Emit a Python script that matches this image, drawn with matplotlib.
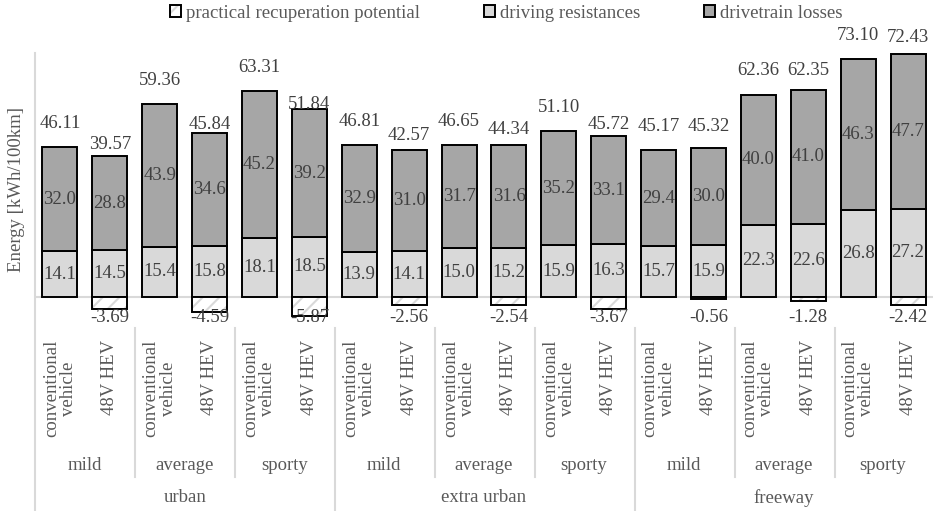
import numpy as np
import matplotlib
matplotlib.use('Agg')
import matplotlib.pyplot as plt
import matplotlib.transforms as mtrans
from matplotlib.patches import Patch
from matplotlib.lines import Line2D
from matplotlib.legend_handler import HandlerTuple

plt.rcParams['font.family'] = 'serif'
plt.rcParams['font.serif'] = ['Liberation Serif', 'DejaVu Serif']
plt.rcParams['hatch.linewidth'] = 1.5

### Data
groups    = ['urban', 'extra urban', 'freeway']
styles    = ['mild', 'average', 'sporty']
vehicles  = ['conventional\nvehicle', '48V HEV']

driving   = [14.1, 14.5, 15.4, 15.8, 18.1, 18.5, 13.9, 14.1, 15.0, 15.2, 15.9, 16.3,
             15.7, 15.9, 22.3, 22.6, 26.8, 27.2]
losses    = [32.0, 28.8, 43.9, 34.6, 45.2, 39.2, 32.9, 31.0, 31.7, 31.6, 35.2, 33.1,
             29.4, 30.0, 40.0, 41.0, 46.3, 47.7]
recup     = [0, -3.69, 0, -4.59, 0, -5.87, 0, -2.56, 0, -2.54, 0, -3.67,
             0, -0.56, 0, -1.28, 0, -2.42]
totals    = [46.11, 39.57, 59.36, 45.84, 63.31, 51.84, 46.81, 42.57, 46.65, 44.34,
             51.10, 45.72, 45.17, 45.32, 62.36, 62.35, 73.10, 72.43]

labels_legend = ['practical recuperation potential', 'driving resistances', 'drivetrain losses']

c_light = '#d9d9d9'
c_dark  = '#a6a6a6'
c_num   = '#404040'
c_txt   = '#595959'
c_grid  = '#d9d9d9'
fs = 13.5

W, H = 933, 511
fig = plt.figure(figsize=(W/100, H/100), dpi=100)

def fx(x): return x / W
def fy(y): return 1 - y / H

# axes: x 35..933 px, y 53..320 px, zero at 297 px
ax = fig.add_axes([fx(35), fy(320), fx(933) - fx(35), fy(53) - fy(320)])
ax.set_xlim(-0.5, 17.5)
ax.set_ylim(-23 / 3.25, 244 / 3.25)
for s in ['top', 'right', 'bottom', 'left']:
    ax.spines[s].set_visible(False)
ax.set_xticks([])
ax.set_yticks([])
ax.patch.set_alpha(0)

x = np.arange(len(driving))
w = 0.7
driving = np.array(driving)
losses = np.array(losses)
recup = np.array(recup)

ax.axhline(0, color=c_grid, lw=1.5, zorder=1)

ax.bar(x, driving, w, color=c_light, edgecolor='black', lw=1.4, zorder=2)
ax.bar(x, losses, w, bottom=driving, color=c_dark, edgecolor='black', lw=1.4, zorder=2)
neg = recup < 0
ax.bar(x[neg], recup[neg], w, color='white', edgecolor=c_light, hatch='//', lw=0, zorder=2)
ax.bar(x[neg], recup[neg], w, fill=False, edgecolor='black', lw=1.4, zorder=3)

# segment labels
for i in range(len(x)):
    ax.text(x[i], driving[i] / 2, f'{driving[i]:.1f}', ha='center', va='center',
            fontsize=fs, color=c_num, zorder=4)
    ax.text(x[i], driving[i] + losses[i] / 2, f'{losses[i]:.1f}', ha='center', va='center',
            fontsize=fs, color=c_num, zorder=4)
    ax.annotate(f'{totals[i]:.2f}', (x[i], totals[i]), xytext=(0, 17), textcoords='offset points',
                ha='center', va='center', fontsize=fs, color=c_num, annotation_clip=False)

trans = mtrans.blended_transform_factory(ax.transData, fig.transFigure)
for i in np.where(neg)[0]:
    ax.text(x[i], fy(318), f'{recup[i]:.2f}', transform=trans, ha='center', va='center',
            fontsize=fs, color=c_num, zorder=4)

# category labels
for i in range(len(x)):
    ax.text(x[i], fy(340), vehicles[i % 2], transform=trans, rotation=90, ha='center',
            va='top', multialignment='center', fontsize=fs, color=c_txt, linespacing=1.0)
for j in range(9):
    ax.text(2 * j + 0.5, fy(465), styles[j % 3], transform=trans, ha='center', va='center',
            fontsize=fs, color=c_txt)
for k in range(3):
    ax.text(6 * k + 2.5, fy(498), groups[k], transform=trans, ha='center', va='center',
            fontsize=fs, color=c_txt)

# separators
def vline(xp, y0, y1):
    fig.add_artist(Line2D([fx(xp), fx(xp)], [fy(y0), fy(y1)], color=c_grid, lw=1.5))

vline(35, 53, 511)
for k in range(1, 9):
    xp = 35 + 100 * k
    if k % 3 == 0:
        vline(xp, 328, 511)
    else:
        vline(xp, 328, 477)

fig.text(fx(17), fy(190), 'Energy [kWh/100km]', rotation=90, ha='center', va='center',
         fontsize=fs, color=c_txt)

# legend
h_rec = (Patch(facecolor='white', edgecolor=c_light, hatch='//', lw=0),
         Patch(fill=False, edgecolor='black', lw=1.4))
h_drv = Patch(facecolor=c_light, edgecolor='black', lw=1.4)
h_los = Patch(facecolor=c_dark, edgecolor='black', lw=1.4)
leg = fig.legend([h_rec, h_drv, h_los], labels_legend, loc='center',
                 bbox_to_anchor=(fx(506), fy(13)), ncol=3, frameon=False, fontsize=fs,
                 handlelength=0.6, handleheight=0.6, handletextpad=0.25, columnspacing=3.4,
                 handler_map={tuple: HandlerTuple(ndivide=1, pad=0)})
for t in leg.get_texts():
    t.set_color(c_txt)

fig.savefig('out.png', dpi=100)
